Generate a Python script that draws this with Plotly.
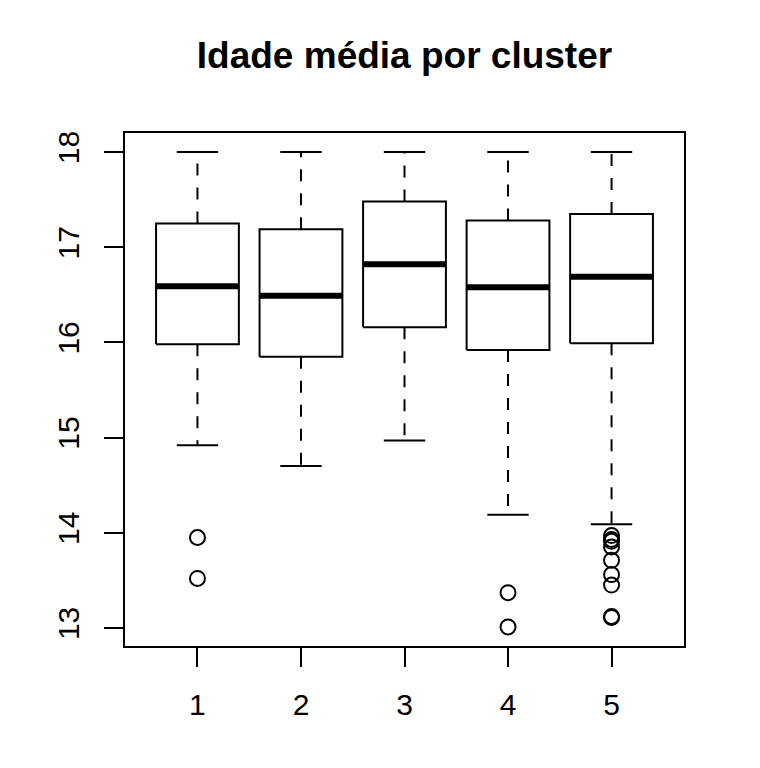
import plotly.graph_objects as go

clusters = [1, 2, 3, 4, 5]
upper_whisker = [18.0, 18.0, 18.0, 18.0, 18.0]
q3 = [17.25, 17.19, 17.48, 17.28, 17.35]
median = [16.59, 16.49, 16.82, 16.58, 16.69]
q1 = [15.98, 15.85, 16.16, 15.92, 15.99]
lower_whisker = [14.92, 14.70, 14.97, 14.19, 14.09]
outliers = {
    1: [13.95, 13.52],
    2: [],
    3: [],
    4: [13.37, 13.01],
    5: [13.97, 13.93, 13.91, 13.85, 13.71, 13.56, 13.45, 13.11, 13.12],
}
title_text = "Idade média por cluster"
y_ticks = [13, 14, 15, 16, 17, 18]

HALF = 0.4
CAP = 0.2
BLACK = "black"

fig = go.Figure()
for i, c in enumerate(clusters):
    # box
    fig.add_trace(go.Scatter(
        x=[c - HALF, c + HALF, c + HALF, c - HALF, c - HALF],
        y=[q1[i], q1[i], q3[i], q3[i], q1[i]],
        mode="lines", line=dict(color=BLACK, width=2), hoverinfo="skip"))
    # median
    fig.add_trace(go.Scatter(
        x=[c - HALF, c + HALF], y=[median[i], median[i]],
        mode="lines", line=dict(color=BLACK, width=6), hoverinfo="skip"))
    # whiskers (dashed)
    fig.add_trace(go.Scatter(
        x=[c, c], y=[q3[i], upper_whisker[i]],
        mode="lines", line=dict(color=BLACK, width=2, dash="12px,12px"), hoverinfo="skip"))
    fig.add_trace(go.Scatter(
        x=[c, c], y=[q1[i], lower_whisker[i]],
        mode="lines", line=dict(color=BLACK, width=2, dash="12px,12px"), hoverinfo="skip"))
    # caps
    for v in (upper_whisker[i], lower_whisker[i]):
        fig.add_trace(go.Scatter(
            x=[c - CAP, c + CAP], y=[v, v],
            mode="lines", line=dict(color=BLACK, width=2), hoverinfo="skip"))
    # outliers
    if outliers[c]:
        fig.add_trace(go.Scatter(
            x=[c] * len(outliers[c]), y=outliers[c], mode="markers",
            marker=dict(symbol="circle-open", size=15, color=BLACK,
                        line=dict(color=BLACK, width=2))))

axis_common = dict(
    showgrid=False, zeroline=False, showline=True, mirror=True,
    linecolor=BLACK, linewidth=2, ticks="outside", ticklen=19,
    tickwidth=2, tickcolor=BLACK,
    tickfont=dict(size=30, color=BLACK, family="Liberation Sans, Arial"),
)

fig.update_layout(
    width=760, height=768,
    margin=dict(l=125, r=76, t=133, b=122),
    paper_bgcolor="white", plot_bgcolor="white",
    showlegend=False,
    font=dict(family="Liberation Sans, Arial", color=BLACK),
    title=dict(text="<b>" + title_text + "</b>", x=0.5, xref="paper",
               y=1 - 55 / 768, yref="container", yanchor="middle",
               font=dict(size=37, color=BLACK, family="Liberation Sans, Arial")),
    xaxis=dict(range=[0.3, 5.7], tickvals=clusters,
               ticktext=[str(c) for c in clusters], ticklabelstandoff=12,
               **axis_common),
    yaxis=dict(range=[12.81, 18.2], tickvals=y_ticks,
               ticktext=[str(v) for v in y_ticks], tickangle=-90,
               ticklabelstandoff=13, **axis_common),
)

fig.write_html("out.html")
